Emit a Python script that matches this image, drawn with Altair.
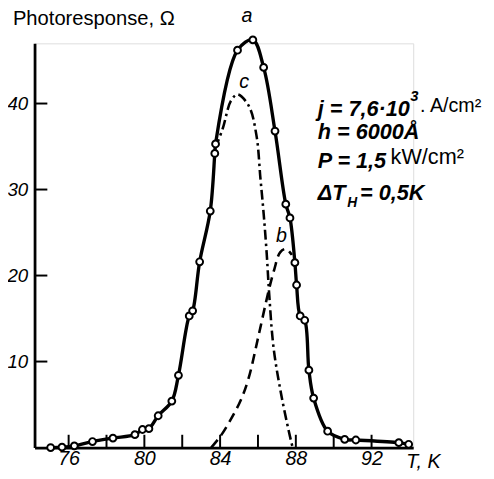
import altair as alt
import pandas as pd

# ---- data ----
# curve a: measured points (T in K, photoresponse in Ohm)
a_T = [75.05, 75.65, 76.30, 77.26, 78.34, 79.50, 79.90, 80.24, 80.73, 81.45,
       81.80, 82.37, 82.55, 82.92, 83.48, 83.72, 83.76, 84.92, 85.73, 86.30,
       86.90, 87.47, 87.69, 87.95, 88.04, 88.23, 88.47, 88.69, 88.94, 89.68,
       90.58, 91.17, 93.44, 93.96]
a_v = [0.0, 0.05, 0.2, 0.7, 1.1, 1.5, 2.1, 2.2, 3.7, 5.4,
       8.4, 15.3, 15.9, 21.6, 27.5, 34.2, 35.3, 46.2, 47.4, 44.2,
       36.8, 28.3, 26.7, 21.5, 18.9, 15.3, 14.8, 9.0, 5.75, 1.9,
       0.95, 0.88, 0.57, 0.38]

# curve b (dashed)
b_T = [83.53, 84.00, 84.52, 85.09, 85.51, 86.03, 86.55, 86.86, 87.17, 87.48, 87.79]
b_v = [0.0, 1.26, 3.1, 5.5, 8.1, 13.0, 18.1, 20.7, 22.7, 23.1, 22.4]

# curve c (dash-dot)
c_T = [83.74, 84.14, 84.57, 84.92, 85.52, 85.92, 86.13, 86.30, 86.46, 86.60,
       86.83, 87.26, 87.78, 87.84]
c_v = [34.8, 37.1, 40.3, 41.06, 39.7, 36.3, 31.3, 27.2, 22.6, 17.6,
       11.5, 5.8, 0.46, 0.0]

x_tick_values = [76, 78, 80, 82, 84, 86, 88, 90, 92]
x_label_values = [76, 80, 84, 88, 92]
y_tick_values = [10, 20, 30, 40]

W, H = 385, 411
LABEL_FONT = "Liberation Sans, Arial, sans-serif"
REG_FONT = "Liberation Sans, Arial, sans-serif"

xs = alt.Scale(domain=[74.2, 94.2], nice=False, zero=False)
ys = alt.Scale(domain=[0, 47], nice=False)

dfa = pd.DataFrame({"T": a_T, "v": a_v})
dfb = pd.DataFrame({"T": b_T, "v": b_v})
dfc = pd.DataFrame({"T": c_T, "v": c_v})
dfxt = pd.DataFrame({"T": x_tick_values})
dfyt = pd.DataFrame({"v": y_tick_values})

x_axis = alt.Axis(values=x_label_values, title=None, grid=False, ticks=False,
                  labelFont=LABEL_FONT, labelFontSize=20, labelFontStyle="italic",
                  labelColor="black", labelPadding=1, domainColor="black",
                  domainWidth=2.8)
y_axis = alt.Axis(values=y_tick_values, title=None, grid=False, ticks=False,
                  labelFont=LABEL_FONT, labelFontSize=19, labelFontStyle="italic",
                  labelColor="black", labelPadding=7, domainColor="black",
                  domainWidth=2.8)

line_a = alt.Chart(dfa).mark_line(color="black", strokeWidth=3.4,
                                  interpolate="catmull-rom").encode(
    x=alt.X("T:Q", scale=xs, axis=x_axis),
    y=alt.Y("v:Q", scale=ys, axis=y_axis),
)

line_b = alt.Chart(dfb).mark_line(color="black", strokeWidth=2.6,
                                  strokeDash=[10, 6],
                                  interpolate="catmull-rom").encode(
    x=alt.X("T:Q", scale=xs), y=alt.Y("v:Q", scale=ys))

line_c = alt.Chart(dfc).mark_line(color="black", strokeWidth=2.6,
                                  strokeDash=[10, 4, 2.5, 4],
                                  interpolate="catmull-rom").encode(
    x=alt.X("T:Q", scale=xs), y=alt.Y("v:Q", scale=ys))

pts_a = alt.Chart(dfa).mark_point(shape="circle", filled=True, fill="white",
                                  stroke="black", strokeWidth=2, size=48,
                                  opacity=1).encode(
    x=alt.X("T:Q", scale=xs), y=alt.Y("v:Q", scale=ys))

xticks = alt.Chart(dfxt).mark_rule(color="black", strokeWidth=2).encode(
    x=alt.X("T:Q", scale=xs), y=alt.value(H), y2=alt.value(H - 13))
yticks = alt.Chart(dfyt).mark_rule(color="black", strokeWidth=2).encode(
    y=alt.Y("v:Q", scale=ys), x=alt.value(0), x2=alt.value(13))


def txt(text, x, y, size, style="normal", weight="normal", font=LABEL_FONT,
        align="left"):
    return alt.Chart(pd.DataFrame({"t": [text]})).mark_text(
        align=align, baseline="alphabetic", fontSize=size, fontStyle=style,
        fontWeight=weight, font=font, color="black").encode(
        text="t:N", x=alt.value(x), y=alt.value(y))


texts = [
    txt("Photoresponse, \u03a9", -22, -19, 20.5, font=REG_FONT),
    txt("T, K", 378, 432, 20, style="italic"),
    txt("a", 216, -22, 20, style="italic", align="center"),
    txt("c", 213, 45, 20, style="italic", align="center"),
    txt("b", 251, 202, 20, style="italic", align="center"),
    txt("j = 7,6\u00b710", 288, 74, 22, style="italic", weight="bold"),
    txt("3", 382, 59, 15, style="italic", weight="bold"),
    txt(". A/cm\u00b2", 392, 70, 20, font=REG_FONT),
    txt("h = 6000\u00c5", 288, 97, 22, style="italic", weight="bold"),
    txt("P = 1,5", 288, 127, 22, style="italic", weight="bold"),
    txt("kW/cm\u00b2", 362, 123, 22, font=REG_FONT),
    txt("\u0394T", 288, 159, 22, style="italic", weight="bold"),
    txt("H", 318, 166, 14, style="italic", weight="bold"),
    txt("= 0,5K", 331, 159, 22, style="italic", weight="bold"),
]

chart = alt.layer(line_c, line_b, line_a, pts_a, xticks, yticks, *texts).properties(
    width=W, height=H,
    autosize=alt.AutoSizeParams(type="none"),
    padding={"left": 27, "top": 32, "right": 74, "bottom": 25},
).configure_view(stroke=None).configure(background="white")

chart.save("out.html", embed_options={"renderer": "svg", "actions": False})
